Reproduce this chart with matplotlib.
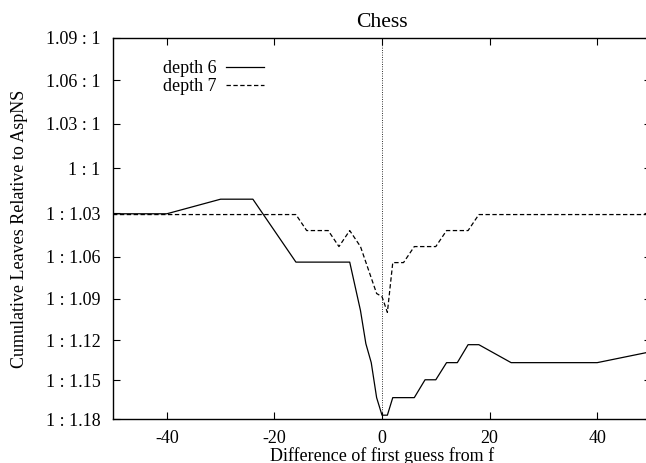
import numpy as np
import matplotlib
matplotlib.use("Agg")
import matplotlib.pyplot as plt
from matplotlib.ticker import FixedLocator, NullLocator

plt.rcParams['font.family'] = ['Liberation Serif', 'DejaVu Serif']
plt.rcParams['font.size'] = 13
plt.rcParams['axes.unicode_minus'] = False

# depth 6 (solid) - leaves relative to AspNS, as ratio
d6_x = [-50, -40, -30, -24, -16, -6, -4, -3, -2, -1, 0, 1, 2, 6, 8, 10, 12, 14, 16, 18, 24, 40, 50]
d6_y = [0.9705, 0.9705, 0.9799, 0.9799, 0.9400, 0.9400, 0.9104, 0.8907, 0.8796, 0.8595,
        0.8496, 0.8496, 0.8595, 0.8595, 0.8697, 0.8697, 0.8796, 0.8796, 0.8901, 0.8901,
        0.8796, 0.8796, 0.8860]

# depth 7 (dashed)
d7_x = [-50, -16, -14, -10, -8, -6, -4, -1, 0, 1, 2, 4, 6, 10, 12, 16, 18, 50]
d7_y = [0.9700, 0.9700, 0.9598, 0.9598, 0.9497, 0.9598, 0.9497, 0.9207, 0.9188, 0.9093,
        0.9397, 0.9397, 0.9497, 0.9497, 0.9598, 0.9598, 0.9700, 0.9700]

# y ticks: "a : b" ratios
tick_num = [1.09, 1.06, 1.03, 1, 1, 1, 1, 1, 1, 1]
tick_den = [1, 1, 1, 1, 1.03, 1.06, 1.09, 1.12, 1.15, 1.18]
tick_lbl = ['1.09 : 1', '1.06 : 1', '1.03 : 1', '1 : 1', '1 : 1.03',
            '1 : 1.06', '1 : 1.09', '1 : 1.12', '1 : 1.15', '1 : 1.18']

fig = plt.figure(figsize=(6.46, 4.63), dpi=100)
ax = fig.add_axes([113/646, 1-419/463, (651-113)/646, (419-38)/463])

ax.plot(d6_x, d6_y, color='black', lw=0.9, label='depth 6')
ax.plot(d7_x, d7_y, color='black', lw=0.9, ls=(0, (3.5, 2)), label='depth 7')
ax.axvline(0, color='black', lw=0.7, ls=(0, (0.8, 1.6)))

ax.set_yscale('log')
tick_pos = np.array(tick_num) / np.array(tick_den)
ax.yaxis.set_major_locator(FixedLocator(tick_pos))
ax.yaxis.set_minor_locator(NullLocator())
ax.set_yticklabels(tick_lbl)
ax.set_ylim(1/1.18, 1.09)
ax.set_xlim(-50, 50)
ax.set_xticks([-40, -20, 0, 20, 40])

ax.tick_params(direction='in', top=True, right=True, length=5, width=0.8)
ax.tick_params(axis='y', pad=9)
ax.tick_params(axis='x', pad=8)
for s in ax.spines.values():
    s.set_linewidth(1.0)

ax.set_title('Chess', pad=8)
ax.set_xlabel('Difference of first guess from f', labelpad=0)
ax.set_ylabel('Cumulative Leaves Relative to AspNS', labelpad=13)

ax.legend(loc='upper left', bbox_to_anchor=(0.07, 0.975), frameon=False,
          markerfirst=False, handlelength=2.1, handletextpad=0.5, labelspacing=0.05,
          borderpad=0.2)

fig.savefig('out.png', dpi=100)
